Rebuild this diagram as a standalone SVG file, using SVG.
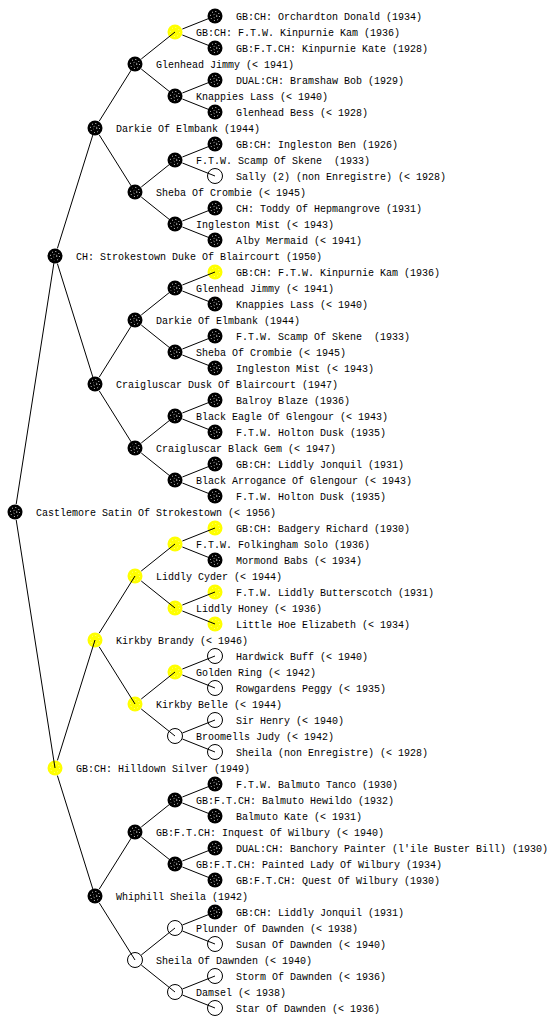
<svg xmlns="http://www.w3.org/2000/svg" xmlns:xlink="http://www.w3.org/1999/xlink" width="560" height="1024" viewBox="0 0 560 1024">
<style>
text{font-family:"Liberation Mono","DejaVu Sans Mono",monospace;font-size:10px;fill:#000;white-space:pre}
#edges line{stroke:#000;stroke-width:1}
</style>
<defs>
<g id="nb"><circle r="7.5" fill="#000"/><circle r="4.5" fill="none" stroke="#fff" stroke-width="1" stroke-dasharray="1 2.5"/><circle r="1.8" fill="none" stroke="#fff" stroke-width="0.8" stroke-dasharray="1 2"/></g>
<g id="ny"><circle r="7.5" fill="#ffff00"/><circle r="4.5" fill="none" stroke="#ffff99" stroke-width="1" stroke-dasharray="1 2.5"/></g>
<g id="nw"><circle r="7.5" fill="#fff" stroke="#000" stroke-width="1"/></g>
</defs>
<rect width="560" height="1024" fill="#fff"/>
<g id="nodes">
<g id="n1"><use href="#nb" x="215" y="16"/><text x="236" y="20">GB:CH: Orchardton Donald (1934)</text></g>
<g id="n2"><use href="#ny" x="175" y="32"/><text x="196" y="36">GB:CH: F.T.W. Kinpurnie Kam (1936)</text></g>
<g id="n3"><use href="#nb" x="215" y="48"/><text x="236" y="52">GB:F.T.CH: Kinpurnie Kate (1928)</text></g>
<g id="n4"><use href="#nb" x="135" y="64"/><text x="156" y="68">Glenhead Jimmy (&lt; 1941)</text></g>
<g id="n5"><use href="#nb" x="215" y="80"/><text x="236" y="84">DUAL:CH: Bramshaw Bob (1929)</text></g>
<g id="n6"><use href="#nb" x="175" y="96"/><text x="196" y="100">Knappies Lass (&lt; 1940)</text></g>
<g id="n7"><use href="#nb" x="215" y="112"/><text x="236" y="116">Glenhead Bess (&lt; 1928)</text></g>
<g id="n8"><use href="#nb" x="95" y="128"/><text x="116" y="132">Darkie Of Elmbank (1944)</text></g>
<g id="n9"><use href="#nb" x="215" y="144"/><text x="236" y="148">GB:CH: Ingleston Ben (1926)</text></g>
<g id="n10"><use href="#nb" x="175" y="160"/><text x="196" y="164">F.T.W. Scamp Of Skene  (1933)</text></g>
<g id="n11"><use href="#nw" x="215" y="176"/><text x="236" y="180">Sally (2) (non Enregistre) (&lt; 1928)</text></g>
<g id="n12"><use href="#nb" x="135" y="192"/><text x="156" y="196">Sheba Of Crombie (&lt; 1945)</text></g>
<g id="n13"><use href="#nb" x="215" y="208"/><text x="236" y="212">CH: Toddy Of Hepmangrove (1931)</text></g>
<g id="n14"><use href="#nb" x="175" y="224"/><text x="196" y="228">Ingleston Mist (&lt; 1943)</text></g>
<g id="n15"><use href="#nb" x="215" y="240"/><text x="236" y="244">Alby Mermaid (&lt; 1941)</text></g>
<g id="n16"><use href="#nb" x="55" y="256"/><text x="76" y="260">CH: Strokestown Duke Of Blaircourt (1950)</text></g>
<g id="n17"><use href="#ny" x="215" y="272"/><text x="236" y="276">GB:CH: F.T.W. Kinpurnie Kam (1936)</text></g>
<g id="n18"><use href="#nb" x="175" y="288"/><text x="196" y="292">Glenhead Jimmy (&lt; 1941)</text></g>
<g id="n19"><use href="#nb" x="215" y="304"/><text x="236" y="308">Knappies Lass (&lt; 1940)</text></g>
<g id="n20"><use href="#nb" x="135" y="320"/><text x="156" y="324">Darkie Of Elmbank (1944)</text></g>
<g id="n21"><use href="#nb" x="215" y="336"/><text x="236" y="340">F.T.W. Scamp Of Skene  (1933)</text></g>
<g id="n22"><use href="#nb" x="175" y="352"/><text x="196" y="356">Sheba Of Crombie (&lt; 1945)</text></g>
<g id="n23"><use href="#nb" x="215" y="368"/><text x="236" y="372">Ingleston Mist (&lt; 1943)</text></g>
<g id="n24"><use href="#nb" x="95" y="384"/><text x="116" y="388">Craigluscar Dusk Of Blaircourt (1947)</text></g>
<g id="n25"><use href="#nb" x="215" y="400"/><text x="236" y="404">Balroy Blaze (1936)</text></g>
<g id="n26"><use href="#nb" x="175" y="416"/><text x="196" y="420">Black Eagle Of Glengour (&lt; 1943)</text></g>
<g id="n27"><use href="#nb" x="215" y="432"/><text x="236" y="436">F.T.W. Holton Dusk (1935)</text></g>
<g id="n28"><use href="#nb" x="135" y="448"/><text x="156" y="452">Craigluscar Black Gem (&lt; 1947)</text></g>
<g id="n29"><use href="#nb" x="215" y="464"/><text x="236" y="468">GB:CH: Liddly Jonquil (1931)</text></g>
<g id="n30"><use href="#nb" x="175" y="480"/><text x="196" y="484">Black Arrogance Of Glengour (&lt; 1943)</text></g>
<g id="n31"><use href="#nb" x="215" y="496"/><text x="236" y="500">F.T.W. Holton Dusk (1935)</text></g>
<g id="n32"><use href="#nb" x="15" y="512"/><text x="36" y="516">Castlemore Satin Of Strokestown (&lt; 1956)</text></g>
<g id="n33"><use href="#ny" x="215" y="528"/><text x="236" y="532">GB:CH: Badgery Richard (1930)</text></g>
<g id="n34"><use href="#ny" x="175" y="544"/><text x="196" y="548">F.T.W. Folkingham Solo (1936)</text></g>
<g id="n35"><use href="#nb" x="215" y="560"/><text x="236" y="564">Mormond Babs (&lt; 1934)</text></g>
<g id="n36"><use href="#ny" x="135" y="576"/><text x="156" y="580">Liddly Cyder (&lt; 1944)</text></g>
<g id="n37"><use href="#ny" x="215" y="592"/><text x="236" y="596">F.T.W. Liddly Butterscotch (1931)</text></g>
<g id="n38"><use href="#ny" x="175" y="608"/><text x="196" y="612">Liddly Honey (&lt; 1936)</text></g>
<g id="n39"><use href="#ny" x="215" y="624"/><text x="236" y="628">Little Hoe Elizabeth (&lt; 1934)</text></g>
<g id="n40"><use href="#ny" x="95" y="640"/><text x="116" y="644">Kirkby Brandy (&lt; 1946)</text></g>
<g id="n41"><use href="#nw" x="215" y="656"/><text x="236" y="660">Hardwick Buff (&lt; 1940)</text></g>
<g id="n42"><use href="#ny" x="175" y="672"/><text x="196" y="676">Golden Ring (&lt; 1942)</text></g>
<g id="n43"><use href="#nw" x="215" y="688"/><text x="236" y="692">Rowgardens Peggy (&lt; 1935)</text></g>
<g id="n44"><use href="#ny" x="135" y="704"/><text x="156" y="708">Kirkby Belle (&lt; 1944)</text></g>
<g id="n45"><use href="#nw" x="215" y="720"/><text x="236" y="724">Sir Henry (&lt; 1940)</text></g>
<g id="n46"><use href="#nw" x="175" y="736"/><text x="196" y="740">Broomells Judy (&lt; 1942)</text></g>
<g id="n47"><use href="#nw" x="215" y="752"/><text x="236" y="756">Sheila (non Enregistre) (&lt; 1928)</text></g>
<g id="n48"><use href="#ny" x="55" y="768"/><text x="76" y="772">GB:CH: Hilldown Silver (1949)</text></g>
<g id="n49"><use href="#nb" x="215" y="784"/><text x="236" y="788">F.T.W. Balmuto Tanco (1930)</text></g>
<g id="n50"><use href="#nb" x="175" y="800"/><text x="196" y="804">GB:F.T.CH: Balmuto Hewildo (1932)</text></g>
<g id="n51"><use href="#nb" x="215" y="816"/><text x="236" y="820">Balmuto Kate (&lt; 1931)</text></g>
<g id="n52"><use href="#nb" x="135" y="832"/><text x="156" y="836">GB:F.T.CH: Inquest Of Wilbury (&lt; 1940)</text></g>
<g id="n53"><use href="#nb" x="215" y="848"/><text x="236" y="852">DUAL:CH: Banchory Painter (l'ile Buster Bill) (1930)</text></g>
<g id="n54"><use href="#nb" x="175" y="864"/><text x="196" y="868">GB:F.T.CH: Painted Lady Of Wilbury (1934)</text></g>
<g id="n55"><use href="#nb" x="215" y="880"/><text x="236" y="884">GB:F.T.CH: Quest Of Wilbury (1930)</text></g>
<g id="n56"><use href="#nb" x="95" y="896"/><text x="116" y="900">Whiphill Sheila (1942)</text></g>
<g id="n57"><use href="#nb" x="215" y="912"/><text x="236" y="916">GB:CH: Liddly Jonquil (1931)</text></g>
<g id="n58"><use href="#nw" x="175" y="928"/><text x="196" y="932">Plunder Of Dawnden (&lt; 1938)</text></g>
<g id="n59"><use href="#nw" x="215" y="944"/><text x="236" y="948">Susan Of Dawnden (&lt; 1940)</text></g>
<g id="n60"><use href="#nw" x="135" y="960"/><text x="156" y="964">Sheila Of Dawnden (&lt; 1940)</text></g>
<g id="n61"><use href="#nw" x="215" y="976"/><text x="236" y="980">Storm Of Dawnden (&lt; 1936)</text></g>
<g id="n62"><use href="#nw" x="175" y="992"/><text x="196" y="996">Damsel (&lt; 1938)</text></g>
<g id="n63"><use href="#nw" x="215" y="1008"/><text x="236" y="1012">Star Of Dawnden (&lt; 1936)</text></g>
</g>
<g id="edges">
<line x1="16.2" y1="504.1" x2="55" y2="256"/>
<line x1="16.2" y1="519.9" x2="55" y2="768"/>
<line x1="57.4" y1="248.4" x2="95" y2="128"/>
<line x1="57.4" y1="263.6" x2="95" y2="384"/>
<line x1="57.4" y1="760.4" x2="95" y2="640"/>
<line x1="57.4" y1="775.6" x2="95" y2="896"/>
<line x1="99.2" y1="121.2" x2="135" y2="64"/>
<line x1="99.2" y1="134.8" x2="135" y2="192"/>
<line x1="99.2" y1="377.2" x2="135" y2="320"/>
<line x1="99.2" y1="390.8" x2="135" y2="448"/>
<line x1="99.2" y1="633.2" x2="135" y2="576"/>
<line x1="99.2" y1="646.8" x2="135" y2="704"/>
<line x1="99.2" y1="889.2" x2="135" y2="832"/>
<line x1="99.2" y1="902.8" x2="135" y2="960"/>
<line x1="141.25" y1="59" x2="175" y2="32"/>
<line x1="141.25" y1="69" x2="175" y2="96"/>
<line x1="141.25" y1="187" x2="175" y2="160"/>
<line x1="141.25" y1="197" x2="175" y2="224"/>
<line x1="141.25" y1="315" x2="175" y2="288"/>
<line x1="141.25" y1="325" x2="175" y2="352"/>
<line x1="141.25" y1="443" x2="175" y2="416"/>
<line x1="141.25" y1="453" x2="175" y2="480"/>
<line x1="141.25" y1="571" x2="175" y2="544"/>
<line x1="141.25" y1="581" x2="175" y2="608"/>
<line x1="141.25" y1="699" x2="175" y2="672"/>
<line x1="141.25" y1="709" x2="175" y2="736"/>
<line x1="141.25" y1="827" x2="175" y2="800"/>
<line x1="141.25" y1="837" x2="175" y2="864"/>
<line x1="141.25" y1="955" x2="175" y2="928"/>
<line x1="141.25" y1="965" x2="175" y2="992"/>
<line x1="182.4" y1="29" x2="215" y2="16"/>
<line x1="182.4" y1="35" x2="215" y2="48"/>
<line x1="182.4" y1="93" x2="215" y2="80"/>
<line x1="182.4" y1="99" x2="215" y2="112"/>
<line x1="182.4" y1="157" x2="215" y2="144"/>
<line x1="182.4" y1="163" x2="215" y2="176"/>
<line x1="182.4" y1="221" x2="215" y2="208"/>
<line x1="182.4" y1="227" x2="215" y2="240"/>
<line x1="182.4" y1="285" x2="215" y2="272"/>
<line x1="182.4" y1="291" x2="215" y2="304"/>
<line x1="182.4" y1="349" x2="215" y2="336"/>
<line x1="182.4" y1="355" x2="215" y2="368"/>
<line x1="182.4" y1="413" x2="215" y2="400"/>
<line x1="182.4" y1="419" x2="215" y2="432"/>
<line x1="182.4" y1="477" x2="215" y2="464"/>
<line x1="182.4" y1="483" x2="215" y2="496"/>
<line x1="182.4" y1="541" x2="215" y2="528"/>
<line x1="182.4" y1="547" x2="215" y2="560"/>
<line x1="182.4" y1="605" x2="215" y2="592"/>
<line x1="182.4" y1="611" x2="215" y2="624"/>
<line x1="182.4" y1="669" x2="215" y2="656"/>
<line x1="182.4" y1="675" x2="215" y2="688"/>
<line x1="182.4" y1="733" x2="215" y2="720"/>
<line x1="182.4" y1="739" x2="215" y2="752"/>
<line x1="182.4" y1="797" x2="215" y2="784"/>
<line x1="182.4" y1="803" x2="215" y2="816"/>
<line x1="182.4" y1="861" x2="215" y2="848"/>
<line x1="182.4" y1="867" x2="215" y2="880"/>
<line x1="182.4" y1="925" x2="215" y2="912"/>
<line x1="182.4" y1="931" x2="215" y2="944"/>
<line x1="182.4" y1="989" x2="215" y2="976"/>
<line x1="182.4" y1="995" x2="215" y2="1008"/>
</g>
</svg>
